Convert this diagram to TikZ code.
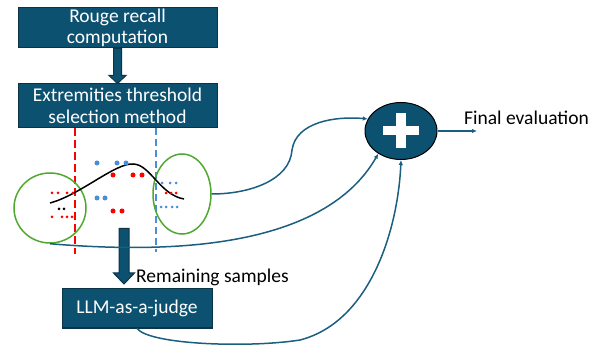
\documentclass[tikz,border=0pt]{standalone}
\usepackage{fontspec}
\setmainfont{Carlito}
\usetikzlibrary{shapes.geometric,arrows.meta,calc}
\definecolor{teal}{HTML}{0D5170}
\definecolor{tealdark}{HTML}{0B3447}
\definecolor{linkc}{HTML}{1A5E80}
\definecolor{grn}{HTML}{4EA72E}
\definecolor{rd}{HTML}{FF0000}
\definecolor{bl}{HTML}{4A8ED8}
\tikzset{
  procbox/.style={draw=tealdark, line width=1pt, fill=teal, text=white, align=center, inner sep=0pt, font=\fontsize{19.5}{21.5}\selectfont},
  ring/.style={ellipse, draw=grn, line width=1.5pt, inner sep=0pt},
  link/.style={draw=linkc, line width=1.5pt, -{Latex[length=5pt,width=4.5pt]}},
  bigarrow/.style={fill=teal, draw=tealdark, line width=1pt},
  sdot/.style={circle, inner sep=0pt, minimum size=3pt},
  bdot/.style={circle, inner sep=0pt, minimum size=5pt},
  lbl/.style={font=\fontsize{19.5}{21.5}\selectfont, inner sep=0pt}
}
\begin{document}
\begin{tikzpicture}[x=1pt,y=-1pt]
\useasboundingbox (0,0) rectangle (597,347);
% boxes
\node[procbox, minimum width=199pt, minimum height=40pt] (b1) at (117.5,28) {Rouge recall\\computation};
\node[procbox, minimum width=199pt, minimum height=44pt] (b2) at (117.5,106) {Extremities threshold\\selection method};
\node[procbox, minimum width=150pt, minimum height=39pt] (llm) at (137,308.5) {LLM-as-a-judge};
% thick arrow b1 -> b2
\coordinate (a1s) at (b1.south);
\draw[bigarrow] ($(a1s)+(-4,0)$) -- ($(a1s)+(4,0)$) -- ($(a1s)+(4,27)$) -- ($(a1s)+(8.5,27)$) -- ($(b2.north)+(0,0)$) -- ($(a1s)+(-8.5,27)$) -- ($(a1s)+(-4,27)$) -- cycle;
% dashed thresholds
\coordinate (rtop) at (75,128.5);
\coordinate (rbot) at (75,254);
\coordinate (btop) at (156,128.5);
\coordinate (bbot) at (156,252);
\draw[rd, line width=2.2pt, dash pattern=on 8pt off 4pt] (rtop) -- (rbot);
\draw[bl, line width=1.8pt, dash pattern=on 7pt off 4pt] (btop) -- (bbot);
% ellipses
\node[ring, minimum width=72pt, minimum height=70pt] (lc) at (50,208) {};
\node[ring, minimum width=58pt, minimum height=80pt] (re) at (182,194) {};
% gaussian curve
\draw[black, line width=1.5pt] (50,203) .. controls (80,195) and (115,163) .. (133,164) .. controls (150,164) and (160,195) .. (184,199);
% big dots
\foreach \x/\y in {97/163,117/163,126/163,97/198,105/198} \node[bdot, fill=bl] at (\x,\y) {};
\foreach \x/\y in {113/175,133/175,142/175,113/211,122/211} \node[bdot, fill=rd] at (\x,\y) {};
% small dots left
\foreach \x/\y in {52/193,58/193,67/193,73/193,52/217,62/217,67/217,72/217} \node[sdot, fill=rd] at (\x,\y) {};
\foreach \x/\y in {59/209,64/209} \node[sdot, fill=black] at (\x,\y) {};
% small dots right
\foreach \x/\y in {162/183,170/183,176/183,161/207,166/207,172/207,177/207} \node[sdot, fill=bl] at (\x,\y) {};
\foreach \x/\y in {166/193,171/193,176/193} \node[sdot, fill=rd] at (\x,\y) {};
% thick arrow to LLM
\coordinate (a2s) at (124,228.5);
\coordinate (a2e) at (124,284);
\draw[bigarrow] ($(a2s)+(-5,0)$) -- ($(a2s)+(5,0)$) -- ($(a2s)+(5,44.5)$) -- ($(a2s)+(10.5,44.5)$) -- (a2e) -- ($(a2s)+(-10.5,44.5)$) -- ($(a2s)+(-5,44.5)$) -- cycle;
\node[lbl, anchor=base west] (rem) at (136,283) {Remaining samples};
% plus circle
\node[ellipse, draw=black, line width=1pt, fill=teal, minimum width=72pt, minimum height=57pt, inner sep=0pt] (pl) at (401,131) {};
\fill[white] ($(pl.center)+(-18,-4.5)$) rectangle ($(pl.center)+(18,4.5)$);
\fill[white] ($(pl.center)+(-5,-18)$) rectangle ($(pl.center)+(5,17)$);
% connectors
\draw[link] (re.east) .. controls (250,194) and (290,180) .. (292,150) .. controls (296,122) and (335,116) .. (pl.160);
\draw[link] (lc.south) .. controls (150,252) and (320,255) .. (pl.225);
\draw[link] (llm.south) .. controls (150,345) and (250,348) .. (300,340) .. controls (370,322) and (398,230) .. (pl.south);
\coordinate (fe) at (477,131);
\draw[link] (pl.east) -- (fe);
\node[lbl, anchor=base west] (fin) at (464,125) {Final evaluation};
\end{tikzpicture}
\end{document}
